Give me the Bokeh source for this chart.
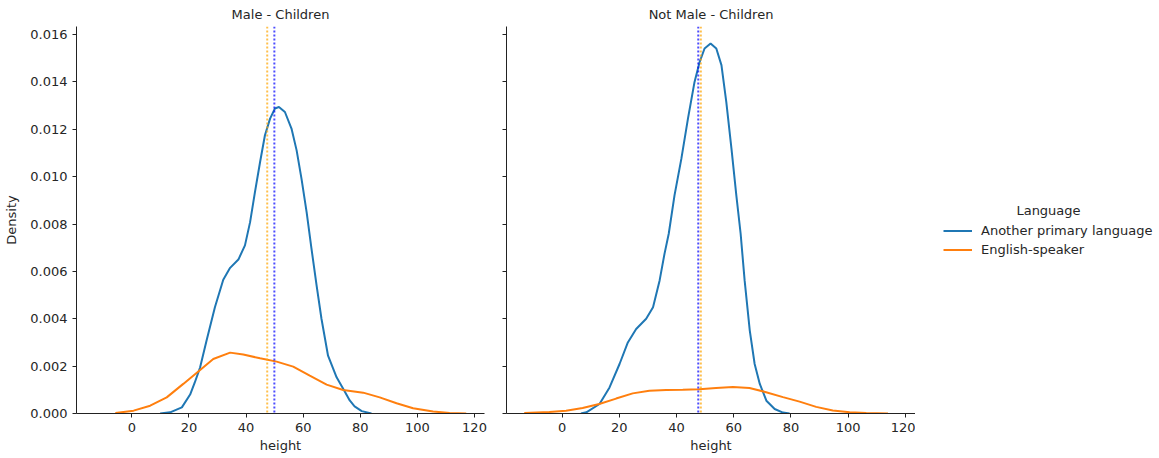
from bokeh.plotting import figure
from bokeh.layouts import row
from bokeh.models import Range1d, Span, Legend, LegendItem, Label, FixedTicker, NumeralTickFormatter
from bokeh.embed import file_html
from bokeh.resources import INLINE

# ---------------- data ----------------
panel_titles = ["Male - Children", "Not Male - Children"]
series_names = ["Another primary language", "English-speaker"]
legend_title = "Language"
x_label = "height"
y_label = "Density"
x_ticks = [0, 20, 40, 60, 80, 100, 120]
y_ticks = [0.0, 0.002, 0.004, 0.006, 0.008, 0.010, 0.012, 0.014, 0.016]

# Male - Children, "Another primary language"
male_other_x = [9.9, 13.4, 17.5, 20.4, 22.0, 23.9, 26.2, 29.1, 32.0, 34.4, 37.3, 39.6, 41.4,
                43.1, 44.9, 46.6, 48.4, 50.1, 51.5, 53.6, 55.9, 57.7, 59.4, 61.2, 62.9,
                64.7, 66.4, 68.7, 71.7, 74.4, 76.3, 78.0, 80.5, 83.9]
male_other_y = [0.0, 0.00005, 0.00026, 0.0008, 0.0013, 0.00195, 0.0031, 0.0045, 0.00565,
                0.00615, 0.0065, 0.0071, 0.00808, 0.00935, 0.01062, 0.01175, 0.01245,
                0.01288, 0.01294, 0.01273, 0.01203, 0.01111, 0.00992, 0.0085, 0.00696,
                0.0054, 0.004, 0.00244, 0.00153, 0.00096, 0.00055, 0.0003, 0.0001, 0.0]
# Male - Children, "English-speaker"
male_eng_x = [-5.8, 0.6, 6.4, 12.2, 18.0, 23.9, 28.5, 34.4, 39.0, 44.9, 50.7, 56.5, 62.3,
              68.2, 74.0, 81.0, 86.8, 92.7, 98.5, 105.5, 111.3, 117.1]
male_eng_y = [0.00002, 0.00012, 0.00033, 0.00068, 0.00125, 0.00184, 0.0023, 0.00257,
              0.00249, 0.00233, 0.00219, 0.00198, 0.0016, 0.00122, 0.00099, 0.00088,
              0.00068, 0.00043, 0.00022, 0.00008, 0.00002, 0.0]
# Not Male - Children, "Another primary language"
notmale_other_x = [6.6, 8.5, 13.1, 16.6, 20.1, 23.0, 25.9, 29.4, 31.8, 34.1, 35.8, 37.3,
                   39.3, 41.7, 44.0, 46.3, 48.1, 49.8, 51.9, 53.9, 55.7, 57.4, 59.2, 60.9,
                   62.4, 63.8, 65.6, 67.3, 69.1, 71.4, 74.3, 77.2, 79.5]
notmale_other_y = [0.0, 0.00005, 0.0004, 0.0011, 0.00209, 0.003, 0.00357, 0.004, 0.00449,
                   0.00562, 0.00674, 0.0076, 0.00921, 0.01076, 0.01245, 0.014, 0.01485,
                   0.01541, 0.01562, 0.01541, 0.01471, 0.01315, 0.01118, 0.00921, 0.0076,
                   0.00562, 0.0035, 0.00209, 0.00125, 0.00054, 0.00019, 0.00004, 0.0]
# Not Male - Children, "English-speaker"
notmale_eng_x = [-13.2, -4.4, 1.4, 7.2, 13.0, 18.9, 24.7, 30.5, 36.4, 42.2, 48.0, 53.8,
                 59.7, 65.5, 71.3, 77.2, 83.0, 88.8, 94.6, 100.5, 106.3, 113.9]
notmale_eng_y = [0.00002, 0.00006, 0.00012, 0.00023, 0.0004, 0.00063, 0.00085, 0.00096,
                 0.00099, 0.001, 0.00102, 0.00108, 0.00112, 0.00108, 0.0009, 0.00069,
                 0.0005, 0.00028, 0.00013, 0.00005, 0.00002, 0.0]

# mean heights (dotted vertical lines): [other language, english]
male_means = [49.9, 47.4]
notmale_means = [47.6, 48.5]

# ---------------- styling ----------------
FONT = "DejaVu Sans"
TXT = "#262626"
C_OTHER = "#1f77b4"
C_ENG = "#ff7f0e"
MEAN_COLORS = ["blue", "orange"]

x_range = Range1d(-19.4, 123.5)
y_range = Range1d(0, 0.01634)


def style(p, show_ylabels):
    p.outline_line_color = None
    p.grid.visible = False
    p.background_fill_color = "white"
    p.border_fill_color = "white"
    p.title.align = "center"
    p.title.text_font = FONT
    p.title.text_font_size = "13px"
    p.title.text_font_style = "normal"
    p.title.text_color = TXT
    p.title.standoff = 9
    for ax in (p.xaxis[0], p.yaxis[0]):
        ax.axis_line_color = "#222222"
        ax.axis_line_width = 1
        ax.major_tick_line_color = "#222222"
        ax.major_tick_out = 4
        ax.major_tick_in = 0
        ax.minor_tick_line_color = None
        ax.major_label_text_font = FONT
        ax.major_label_text_font_size = "13px"
        ax.major_label_text_color = TXT
        ax.axis_label_text_font = FONT
        ax.axis_label_text_font_size = "13px"
        ax.axis_label_text_font_style = "normal"
        ax.axis_label_text_color = TXT
    p.xaxis.ticker = FixedTicker(ticks=x_ticks)
    p.yaxis.ticker = FixedTicker(ticks=y_ticks)
    p.yaxis.formatter = NumeralTickFormatter(format="0.000")
    p.xaxis.axis_label = x_label
    p.xaxis.axis_label_standoff = 3
    p.xaxis.major_label_standoff = 5
    if show_ylabels:
        p.yaxis.axis_label = y_label
        p.yaxis.axis_label_standoff = 8
    else:
        p.yaxis.major_label_overrides = {t: "" for t in y_ticks}
        p.yaxis.major_label_standoff = 0


p1 = figure(frame_width=408, frame_height=387, min_border_left=76, min_border_right=6,
            min_border_top=26, min_border_bottom=45, x_range=x_range, y_range=y_range,
            title=panel_titles[0], output_backend="svg", toolbar_location=None)
p2 = figure(frame_width=409, frame_height=387, min_border_left=16, min_border_right=0,
            min_border_top=26, min_border_bottom=45, x_range=x_range, y_range=y_range,
            title=panel_titles[1], output_backend="svg", toolbar_location=None)
style(p1, True)
style(p2, False)

p1.line(male_other_x, male_other_y, line_color=C_OTHER, line_width=2)
p1.line(male_eng_x, male_eng_y, line_color=C_ENG, line_width=2)
p2.line(notmale_other_x, notmale_other_y, line_color=C_OTHER, line_width=2)
p2.line(notmale_eng_x, notmale_eng_y, line_color=C_ENG, line_width=2)

for p, means in ((p1, male_means), (p2, notmale_means)):
    for m, c in zip(means, MEAN_COLORS):
        p.add_layout(Span(location=m, dimension="height", line_color=c, line_alpha=0.7,
                          line_width=2, line_dash="2 2"))

# legend area to the right of the panels (its own pixel-scaled frame; the
# legend's reference renderers lie outside this frame's ranges so only the
# swatches are seen)
p3 = figure(frame_width=244, frame_height=387, min_border_left=0, min_border_right=0,
            min_border_top=26, min_border_bottom=45, x_range=Range1d(1000, 1244),
            y_range=Range1d(1000, 1387), x_axis_location=None, y_axis_location=None,
            output_backend="svg", toolbar_location=None)
p3.outline_line_color = None
p3.grid.visible = False
p3.background_fill_color = "white"
p3.border_fill_color = "white"
sw1 = p3.line(notmale_other_x, notmale_other_y, line_color=C_OTHER, line_width=2)
sw2 = p3.line(notmale_eng_x, notmale_eng_y, line_color=C_ENG, line_width=2)

legend = Legend(items=[LegendItem(label=series_names[0], renderers=[sw1]),
                       LegendItem(label=series_names[1], renderers=[sw2])],
                location=(28, 154), padding=0, margin=0, spacing=0,
                glyph_width=29, glyph_height=19, label_height=19, label_standoff=9,
                label_text_font=FONT, label_text_font_size="13px", label_text_color=TXT,
                border_line_color=None, background_fill_alpha=0)
p3.add_layout(legend)
p3.add_layout(Label(x=1133, y=1203, text=legend_title, text_align="center",
                    text_baseline="middle", text_font=FONT, text_font_size="13px",
                    text_color=TXT))

layout = row(p1, p2, p3)
open("out.html", "w").write(file_html(layout, INLINE))
